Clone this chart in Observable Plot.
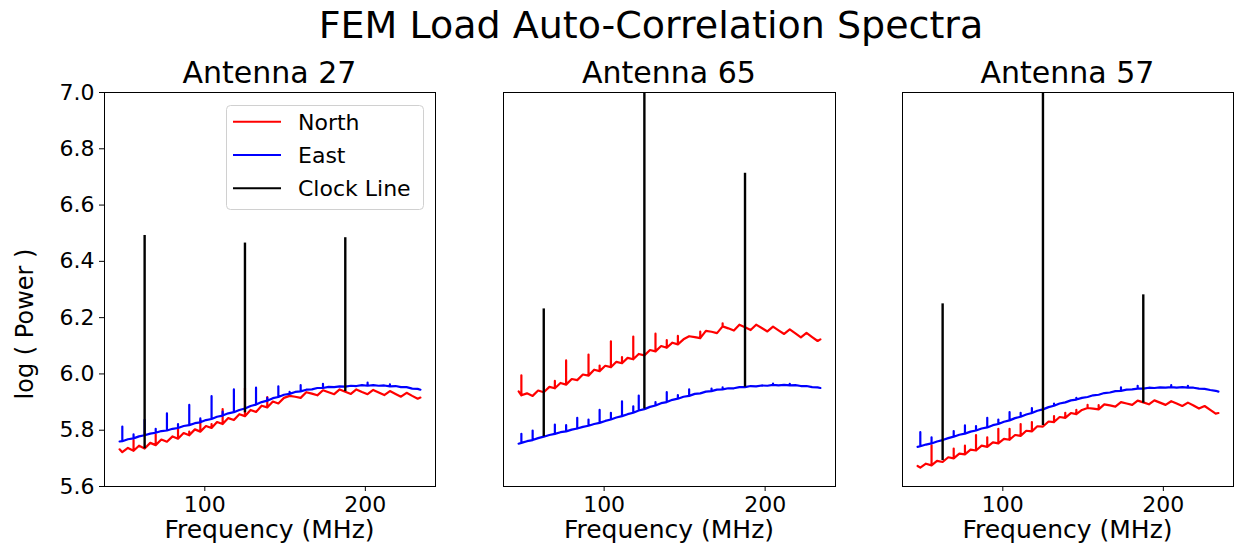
<!DOCTYPE html>
<html>
<head>
<meta charset="utf-8">
<script src="https://cdn.jsdelivr.net/npm/d3@7"></script>
<script src="https://cdn.jsdelivr.net/npm/@observablehq/plot@0.6"></script>
<style>
  body { margin: 0; background: #fff; }
  #fig { position: relative; width: 1235px; height: 546px; overflow: hidden; background: #fff; font-family: "DejaVu Sans", sans-serif; }
  #fig svg.panel { position: absolute; top: 0; }
  #overlay { position: absolute; left: 0; top: 0; pointer-events: none; }
</style>
</head>
<body>
<div id="fig"></div>
<script>
// ---------------- DATA ----------------
const figTitle = "FEM Load Auto-Correlation Spectra";
const panelTitles = ["Antenna 27", "Antenna 65", "Antenna 57"];
const xLabel = "Frequency (MHz)";
const yLabel = "log ( Power )";
const legendLabels = ["North", "East", "Clock Line"];
const xTicks = [100, 200];
const yTicks = [5.6, 5.8, 6.0, 6.2, 6.4, 6.6, 6.8, 7.0];

// frequency channels (MHz)
const freqMHz = [46.9, 48.6, 52.1, 55.6, 59.0, 62.5, 66.0, 69.4, 72.9, 76.4,
  79.9, 83.3, 86.8, 90.3, 93.8, 97.2, 100.7, 104.2, 107.6, 111.1,
  114.6, 118.1, 121.5, 125.0, 128.5, 131.9, 135.4, 138.9, 142.4, 145.8,
  149.3, 152.8, 156.3, 159.7, 163.2, 166.7, 170.1, 173.6, 177.1, 180.6,
  184.0, 187.5, 191.0, 194.4, 197.9, 201.4, 204.9, 208.3, 211.8, 215.3,
  218.8, 222.2, 225.7, 229.2, 232.6, 234.3];

// Antenna 27
const ant27North = [5.732, 5.722, 5.737, 5.727, 5.745, 5.735, 5.755, 5.747, 5.767, 5.759,
  5.778, 5.770, 5.790, 5.782, 5.803, 5.795, 5.815, 5.808, 5.829, 5.822,
  5.843, 5.836, 5.857, 5.850, 5.872, 5.865, 5.887, 5.881, 5.902, 5.895,
  5.915, 5.922, 5.919, 5.915, 5.935, 5.930, 5.924, 5.942, 5.935, 5.928,
  5.945, 5.937, 5.929, 5.945, 5.936, 5.928, 5.943, 5.934, 5.925, 5.939,
  5.929, 5.919, 5.933, 5.922, 5.912, 5.916];
const ant27East = [5.760, 5.761, 5.768, 5.771, 5.778, 5.782, 5.788, 5.791, 5.797, 5.799,
  5.805, 5.808, 5.815, 5.818, 5.825, 5.828, 5.836, 5.840, 5.848, 5.852,
  5.860, 5.864, 5.872, 5.877, 5.886, 5.891, 5.900, 5.905, 5.914, 5.918,
  5.926, 5.929, 5.936, 5.938, 5.944, 5.945, 5.950, 5.950, 5.954, 5.953,
  5.956, 5.955, 5.958, 5.957, 5.960, 5.958, 5.960, 5.958, 5.959, 5.956,
  5.957, 5.953, 5.953, 5.948, 5.947, 5.944];
const ant27NorthSpikes = [[55.6, 5.765], [69.4, 5.785], [83.3, 5.805], [90.3, 5.795], [97.2, 5.835],
  [104.2, 5.822], [111.1, 5.875], [125.0, 5.950], [138.9, 5.918]];
const ant27EastSpikes = [[48.6, 5.813], [55.6, 5.785], [62.5, 5.837], [69.4, 5.805], [76.4, 5.860],
  [83.3, 5.822], [90.3, 5.890], [97.2, 5.842], [104.2, 5.921], [111.1, 5.866], [118.1, 5.945],
  [131.9, 5.951], [138.9, 5.915], [145.8, 5.956], [152.8, 5.936], [159.7, 5.960], [173.6, 5.965],
  [201.4, 5.969], [215.3, 5.963]];
const ant27ClockBase = [5.734, 5.862, 5.937];
const ant27ClockTop = [6.492, 6.465, 6.484];

// Antenna 65
const ant65North = [5.938, 5.924, 5.931, 5.922, 5.941, 5.935, 5.954, 5.949, 5.968, 5.962,
  5.982, 5.978, 5.998, 5.994, 6.015, 6.010, 6.029, 6.024, 6.043, 6.038,
  6.057, 6.052, 6.071, 6.066, 6.085, 6.080, 6.099, 6.093, 6.111, 6.105,
  6.123, 6.134, 6.131, 6.127, 6.153, 6.150, 6.145, 6.169, 6.162, 6.154,
  6.175, 6.166, 6.156, 6.175, 6.163, 6.151, 6.168, 6.155, 6.142, 6.158,
  6.144, 6.130, 6.146, 6.131, 6.117, 6.123];
const ant65East = [5.752, 5.755, 5.761, 5.765, 5.772, 5.777, 5.783, 5.787, 5.793, 5.796,
  5.802, 5.806, 5.812, 5.816, 5.822, 5.826, 5.833, 5.838, 5.845, 5.850,
  5.857, 5.862, 5.870, 5.875, 5.883, 5.888, 5.896, 5.900, 5.908, 5.912,
  5.919, 5.922, 5.929, 5.931, 5.937, 5.939, 5.944, 5.945, 5.949, 5.949,
  5.953, 5.953, 5.957, 5.956, 5.959, 5.958, 5.961, 5.959, 5.961, 5.959,
  5.960, 5.957, 5.957, 5.953, 5.952, 5.950];
const ant65NorthSpikes = [[48.6, 5.995], [69.4, 5.975], [76.4, 6.048], [90.3, 6.069], [97.2, 6.030],
  [104.2, 6.116], [111.1, 6.060], [118.1, 6.133], [131.9, 6.143], [138.9, 6.120], [145.8, 6.135],
  [159.7, 6.150], [173.6, 6.180]];
const ant65EastSpikes = [[48.6, 5.787], [55.6, 5.799], [69.4, 5.820], [76.4, 5.818], [83.3, 5.844],
  [90.3, 5.838], [97.2, 5.872], [104.2, 5.862], [111.1, 5.903], [118.1, 5.885], [121.5, 5.923],
  [131.9, 5.900], [138.9, 5.935], [145.8, 5.925], [152.8, 5.945], [166.7, 5.948], [173.6, 5.952],
  [204.9, 5.966], [215.3, 5.965]];
const ant65ClockBase = [5.777, 5.875, 5.953];
const ant65ClockTop = [6.231, 7.300, 6.713];

// Antenna 57
const ant57North = [5.673, 5.667, 5.681, 5.675, 5.691, 5.687, 5.704, 5.700, 5.717, 5.714,
  5.731, 5.728, 5.745, 5.741, 5.757, 5.753, 5.769, 5.766, 5.783, 5.780,
  5.798, 5.796, 5.814, 5.813, 5.831, 5.829, 5.847, 5.844, 5.861, 5.857,
  5.872, 5.879, 5.877, 5.874, 5.892, 5.888, 5.884, 5.900, 5.895, 5.890,
  5.905, 5.899, 5.892, 5.906, 5.898, 5.890, 5.903, 5.895, 5.886, 5.898,
  5.888, 5.877, 5.886, 5.872, 5.859, 5.861];
const ant57East = [5.741, 5.743, 5.749, 5.753, 5.760, 5.765, 5.772, 5.777, 5.784, 5.788,
  5.795, 5.799, 5.806, 5.810, 5.818, 5.822, 5.830, 5.835, 5.843, 5.848,
  5.856, 5.861, 5.869, 5.874, 5.882, 5.887, 5.895, 5.899, 5.906, 5.909,
  5.915, 5.918, 5.924, 5.926, 5.932, 5.934, 5.939, 5.940, 5.944, 5.945,
  5.948, 5.948, 5.951, 5.950, 5.952, 5.951, 5.953, 5.951, 5.953, 5.951,
  5.951, 5.948, 5.947, 5.943, 5.940, 5.937];
const ant57NorthSpikes = [[55.6, 5.746], [69.4, 5.735], [76.4, 5.745], [83.3, 5.783], [90.3, 5.775],
  [97.2, 5.805], [104.2, 5.805], [111.1, 5.822], [118.1, 5.829], [131.9, 5.850], [138.9, 5.862],
  [145.8, 5.872], [152.8, 5.890], [159.7, 5.889]];
const ant57EastSpikes = [[48.6, 5.793], [55.6, 5.775], [69.4, 5.797], [76.4, 5.817], [83.3, 5.815],
  [90.3, 5.844], [97.2, 5.838], [104.2, 5.864], [111.1, 5.862], [118.1, 5.879], [131.9, 5.895],
  [145.8, 5.915], [173.6, 5.952], [184.0, 5.958], [204.9, 5.960], [215.3, 5.958]];
const ant57ClockBase = [5.692, 5.817, 5.896];
const ant57ClockTop = [6.249, 7.300, 6.281];

const clockFreq = [62.5, 125.0, 187.5];

// ---------------- BUILD ----------------
function spectrum(values, spikes) {
  const pts = [];
  freqMHz.forEach((f, i) => {
    pts.push({ f, v: values[i] });
    const s = spikes.find(d => Math.abs(d[0] - f) < 0.05);
    if (s) pts.push({ f, v: s[1] }, { f, v: values[i] });
  });
  return pts;
}
function clock(base, top) {
  return clockFreq.map((f, i) => ({ f, base: base[i], top: top[i] }));
}

const panels = [
  { north: spectrum(ant27North, ant27NorthSpikes), east: spectrum(ant27East, ant27EastSpikes),
    clock: clock(ant27ClockBase, ant27ClockTop), left: 0, width: 445, ml: 104, mr: 10, yAxis: true },
  { north: spectrum(ant65North, ant65NorthSpikes), east: spectrum(ant65East, ant65EastSpikes),
    clock: clock(ant65ClockBase, ant65ClockTop), left: 493, width: 352, ml: 10, mr: 10, yAxis: false },
  { north: spectrum(ant57North, ant57NorthSpikes), east: spectrum(ant57East, ant57EastSpikes),
    clock: clock(ant57ClockBase, ant57ClockTop), left: 892, width: 343, ml: 10, mr: 2, yAxis: false }
];

const fig = document.getElementById("fig");
const FONT = "DejaVu Sans, sans-serif";

panels.forEach(p => {
  const marks = [
    Plot.line(p.north, { x: "f", y: "v", stroke: "#ff0000", strokeWidth: 2.2, clip: true }),
    Plot.line(p.east, { x: "f", y: "v", stroke: "#0000ff", strokeWidth: 2.2, clip: true }),
    Plot.ruleX(p.clock, { x: "f", y1: "base", y2: "top", stroke: "#000000", strokeWidth: 2.4, clip: true }),
    Plot.frame({ stroke: "#000", strokeWidth: 1 }),
    Plot.axisX({ ticks: xTicks, tickSize: 5, tickPadding: 5, label: null, fontSize: 22 })
  ];
  if (p.yAxis) {
    marks.push(Plot.axisY({ ticks: yTicks, tickFormat: d => d.toFixed(1), tickSize: 5, tickPadding: 5, label: null, fontSize: 22 }));
  }
  const svg = Plot.plot({
    width: p.width,
    height: 546,
    marginTop: 92,
    marginBottom: 60,
    marginLeft: p.ml,
    marginRight: p.mr,
    x: { domain: [37.5, 243.7] },
    y: { domain: [5.6, 7.0], axis: p.yAxis ? undefined : null },
    style: { fontFamily: FONT, fontSize: "22px", color: "#000", background: "transparent", overflow: "visible" },
    marks
  });
  svg.classList.add("panel");
  svg.style.left = p.left + "px";
  fig.appendChild(svg);
});

// overlay texts (titles, axis labels, legend)
const centers = [269.5, 669, 1067.5];
const ov = d3.create("svg").attr("id", "overlay").attr("width", 1235).attr("height", 546)
  .attr("font-family", FONT);
ov.append("text").attr("x", 651).attr("y", 38).attr("text-anchor", "middle")
  .attr("font-size", 38).attr("fill", "#000").text(figTitle);
panelTitles.forEach((t, i) => {
  ov.append("text").attr("x", centers[i]).attr("y", 83).attr("text-anchor", "middle")
    .attr("font-size", 30).attr("fill", "#000").text(t);
  ov.append("text").attr("x", centers[i]).attr("y", 538).attr("text-anchor", "middle")
    .attr("font-size", 25).attr("fill", "#000").text(xLabel);
});
ov.append("text").attr("transform", "translate(33,324) rotate(-90)").attr("text-anchor", "middle")
  .attr("font-size", 24).attr("fill", "#000").text(yLabel);

// legend
const lg = ov.append("g").attr("transform", "translate(226,105)");
lg.append("rect").attr("x", 0.5).attr("y", 0.5).attr("width", 197).attr("height", 104)
  .attr("rx", 4).attr("fill", "#fff").attr("fill-opacity", 0.8).attr("stroke", "#d0d0d0");
const legendColors = ["#ff0000", "#0000ff", "#000000"];
legendLabels.forEach((lab, i) => {
  const cy = 16.7 + i * 33.3;
  lg.append("line").attr("x1", 7).attr("x2", 55).attr("y1", cy).attr("y2", cy)
    .attr("stroke", legendColors[i]).attr("stroke-width", 2);
  lg.append("text").attr("x", 72).attr("y", cy).attr("dy", "0.36em")
    .attr("font-size", 22).attr("fill", "#000").text(lab);
});
fig.appendChild(ov.node());
</script>
</body>
</html>
